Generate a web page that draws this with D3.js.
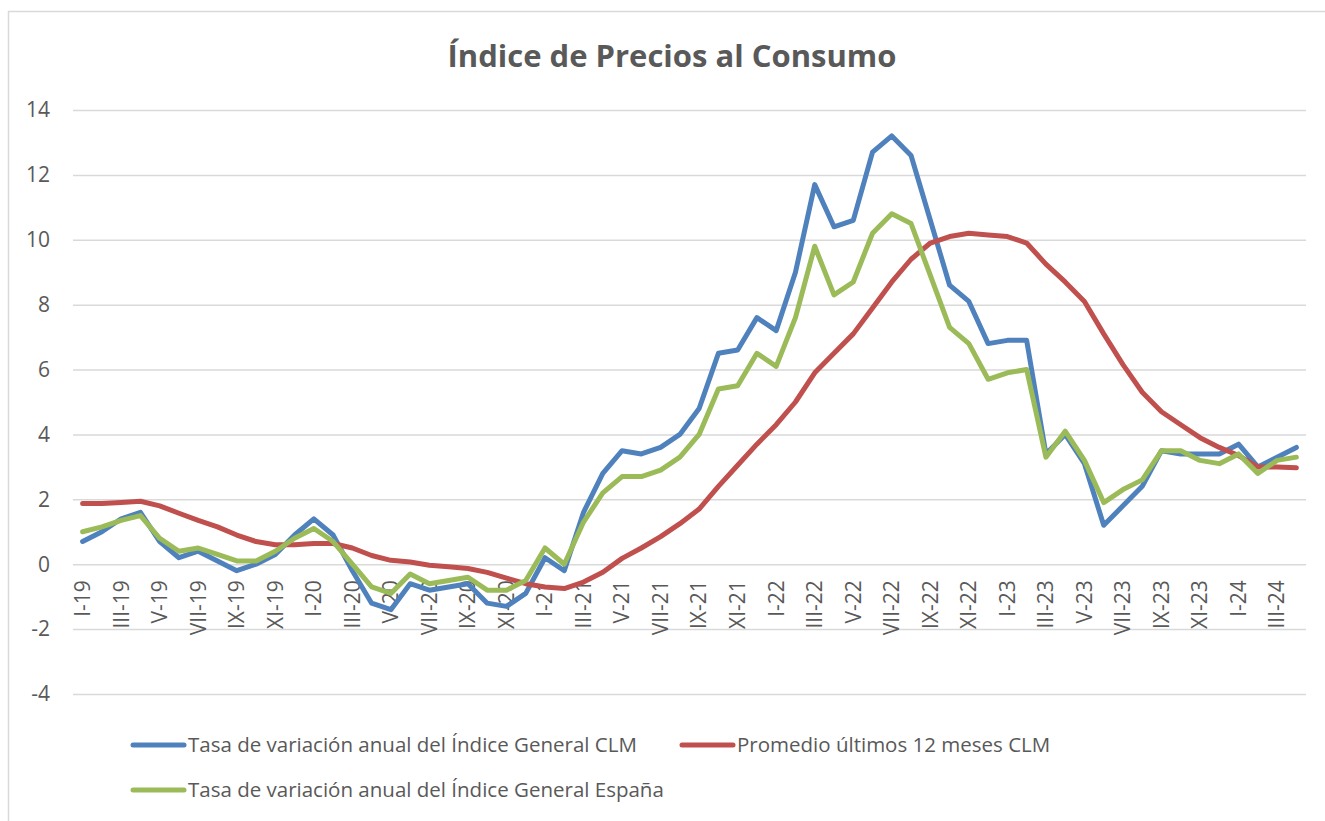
<!DOCTYPE html>
<html lang="es">
<head>
    <meta charset="UTF-8">
    <title>Índice de Precios al Consumo</title>
    <script src="https://cdnjs.cloudflare.com/ajax/libs/d3/7.8.5/d3.min.js"></script>
    <style>
        body { margin: 0; background: #fff; }
        text { font-family: "Open Sans", "Noto Sans", sans-serif; fill: #595959; }
        .grid line { stroke: #d9d9d9; stroke-width: 1.5; }
        .grid .domain { display: none; }
    </style>
</head>
<body>
<div id="chart"></div>
<script>
    // Months from I-19 to IV-24
    const romans = ["I", "II", "III", "IV", "V", "VI", "VII", "VIII", "IX", "X", "XI", "XII"];
    const years = ["19", "20", "21", "22", "23", "24"];
    const months = [];
    years.forEach(y => romans.forEach(r => months.push(r + "-" + y)));
    months.splice(64);

    const yTicks = [-4, -2, 0, 2, 4, 6, 8, 10, 12, 14];

    const clm = [
        0.7, 1.0, 1.4, 1.6, 0.7, 0.2, 0.4, 0.1, -0.2, 0.0, 0.3, 0.9,
        1.4, 0.9, -0.2, -1.2, -1.4, -0.6, -0.8, -0.7, -0.6, -1.2, -1.3, -0.9,
        0.2, -0.2, 1.6, 2.8, 3.5, 3.4, 3.6, 4.0, 4.8, 6.5, 6.6, 7.6,
        7.2, 9.0, 11.7, 10.4, 10.6, 12.7, 13.2, 12.6, 10.6, 8.6, 8.1, 6.8,
        6.9, 6.9, 3.4, 4.0, 3.1, 1.2, 1.8, 2.4, 3.5, 3.4, 3.4, 3.4,
        3.7, 3.0, 3.3, 3.6
    ];
    const promedio = [
        1.87, 1.87, 1.9, 1.94, 1.8, 1.57, 1.35, 1.15, 0.9, 0.7, 0.6, 0.6,
        0.64, 0.64, 0.5, 0.27, 0.12, 0.07, -0.03, -0.08, -0.13, -0.25, -0.43, -0.6,
        -0.7, -0.75, -0.55, -0.25, 0.18, 0.5, 0.85, 1.25, 1.7, 2.4, 3.05, 3.7,
        4.3, 5.0, 5.9, 6.5, 7.1, 7.9, 8.7, 9.4, 9.9, 10.1, 10.2, 10.15,
        10.1, 9.9, 9.25, 8.7, 8.1, 7.1, 6.15, 5.3, 4.7, 4.3, 3.9, 3.6,
        3.35, 3.0, 3.0, 2.97
    ];
    const espana = [
        1.0, 1.15, 1.35, 1.5, 0.8, 0.4, 0.5, 0.3, 0.1, 0.1, 0.4, 0.8,
        1.1, 0.7, 0.0, -0.7, -0.9, -0.3, -0.6, -0.5, -0.4, -0.8, -0.8, -0.5,
        0.5, 0.0, 1.3, 2.2, 2.7, 2.7, 2.9, 3.3, 4.0, 5.4, 5.5, 6.5,
        6.1, 7.6, 9.8, 8.3, 8.7, 10.2, 10.8, 10.5, 8.9, 7.3, 6.8, 5.7,
        5.9, 6.0, 3.3, 4.1, 3.2, 1.9, 2.3, 2.6, 3.5, 3.5, 3.2, 3.1,
        3.4, 2.8, 3.2, 3.3
    ];

    const seriesNames = [
        "Tasa de variación anual del Índice General CLM",
        "Promedio últimos 12 meses CLM",
        "Tasa de variación anual del Índice General España"
    ];
    const colors = ["#4f81bd", "#c0504d", "#9bbb59"];

    const W = 1325, H = 821;
    const margin = { top: 110, right: 19, bottom: 127, left: 73 };
    const width = W - margin.left - margin.right;
    const height = H - margin.top - margin.bottom;

    const svg = d3.select("#chart").append("svg")
        .attr("width", W)
        .attr("height", H);

    // chart frame
    svg.append("rect")
        .attr("x", 8.5).attr("y", 11.5)
        .attr("width", W).attr("height", H)
        .attr("fill", "none")
        .attr("stroke", "#d9d9d9")
        .attr("stroke-width", 1.5);

    svg.append("text")
        .attr("x", 672)
        .attr("y", 67)
        .attr("text-anchor", "middle")
        .style("font-size", "31px")
        .style("font-weight", "bold")
        .text("Índice de Precios al Consumo");

    const g = svg.append("g")
        .attr("transform", "translate(" + margin.left + "," + margin.top + ")");

    const x = d3.scaleBand()
        .domain(months)
        .range([0, width]);

    const y = d3.scaleLinear()
        .domain([-4, 14])
        .range([height, 0]);

    // gridlines
    g.append("g")
        .attr("class", "grid")
        .call(d3.axisLeft(y).tickValues(yTicks).tickSize(-width).tickFormat(""));

    // y labels
    g.selectAll(".ylab")
        .data(yTicks)
        .enter()
        .append("text")
        .attr("class", "ylab")
        .attr("x", -23)
        .attr("y", d => y(d))
        .attr("dy", "0.35em")
        .attr("text-anchor", "end")
        .style("font-size", "21px")
        .text(d => d);

    // x labels, every second month, rotated
    g.selectAll(".xlab")
        .data(months.filter((d, i) => i % 2 === 0))
        .enter()
        .append("text")
        .attr("class", "xlab")
        .attr("text-anchor", "end")
        .attr("transform", d => "translate(" + (x(d) + x.bandwidth() / 2) + "," + (y(0) + 16) + ") rotate(-90)")
        .attr("dy", "0.35em")
        .style("font-size", "21px")
        .text(d => d);

    const line = d3.line()
        .x((d, i) => x(months[i]) + x.bandwidth() / 2)
        .y(d => y(d));

    [clm, promedio, espana].forEach((s, k) => {
        g.append("path")
            .datum(s)
            .attr("fill", "none")
            .attr("stroke", colors[k])
            .attr("stroke-width", 5)
            .attr("stroke-linejoin", "round")
            .attr("stroke-linecap", "round")
            .attr("d", line);
    });

    // legend
    const legendPos = [[131, 745], [680, 745], [131, 790]];
    seriesNames.forEach((name, k) => {
        const lg = svg.append("g")
            .attr("transform", "translate(" + legendPos[k][0] + "," + legendPos[k][1] + ")");
        lg.append("line")
            .attr("x1", 2).attr("x2", 53)
            .attr("y1", 0).attr("y2", 0)
            .attr("stroke", colors[k])
            .attr("stroke-width", 5)
            .attr("stroke-linecap", "round");
        lg.append("text")
            .attr("x", 57)
            .attr("y", 0)
            .attr("dy", "0.35em")
            .style("font-size", "20.5px")
            .text(name);
    });
</script>
</body>
</html>
